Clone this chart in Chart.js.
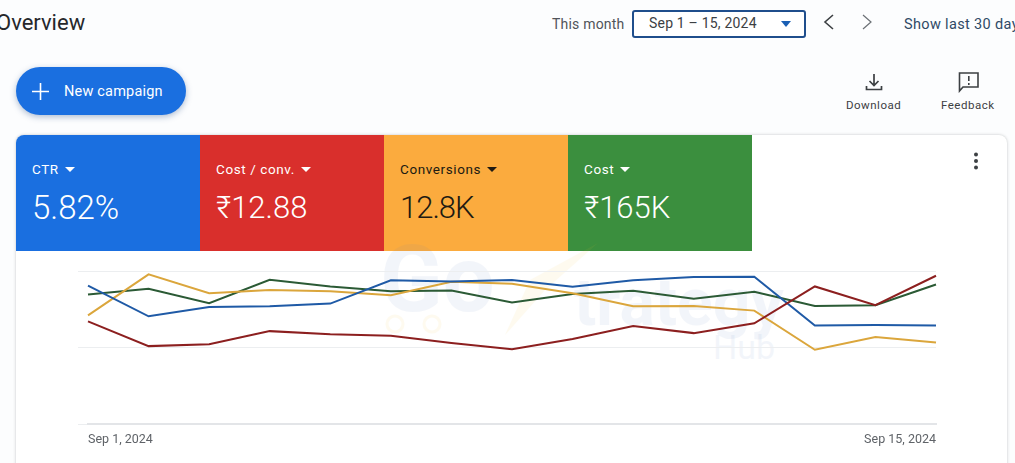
<!DOCTYPE html>
<html>
<head>
<meta charset="utf-8">
<script src="https://cdn.jsdelivr.net/npm/chart.js@4"></script>
<style>
    html, body { margin: 0; padding: 0; }
    body {
        width: 1015px; height: 463px; overflow: hidden; position: relative;
        background: #fcfdfe; font-family: Roboto, sans-serif; color: #3c4043;
    }
    .abs { position: absolute; white-space: nowrap; }
    .title { left: -4px; top: 10px; font-size: 22px; color: #26282b; }
    .month { left: 552px; top: 16px; font-size: 14px; letter-spacing: .2px; color: #50545a; }
    .range {
        left: 632px; top: 10px; width: 170px; height: 24px; border: 2px solid #1f4e8c; border-radius: 3px;
        background: #fff;
    }
    .range span { position: absolute; left: 15px; top: 3px; font-size: 14px; letter-spacing: .2px; color: #3c4043; }
    .range i { position: absolute; right: 13px; top: 9px; border: 5.5px solid transparent; border-top: 6px solid #1a5fb4; border-bottom: 0; }
    .last { left: 904px; top: 16px; font-size: 14.5px; letter-spacing: .35px; color: #2f4a66; }
    .btn {
        left: 16px; top: 67px; width: 170px; height: 48px; border-radius: 24px; background: #1a6fe0;
        box-shadow: 0 2px 6px rgba(30, 70, 130, .35);
    }
    .btn span { position: absolute; left: 48px; top: 16px; font-size: 14.5px; letter-spacing: .2px; color: #fff; }
    .lab { font-size: 11.5px; letter-spacing: .5px; color: #3c4043; }
    .card {
        left: 16px; top: 135px; width: 991px; height: 340px; background: #fff; border-radius: 8px;
        box-shadow: 0 0 3px rgba(60, 64, 67, .3);
    }
    .tile { top: 135px; width: 184px; height: 116px; }
    .tile .name { position: absolute; left: 16px; top: 26px; font-size: 13.5px; letter-spacing: .6px; }
    .tile .name i {
        display: inline-block; margin-left: 6px; vertical-align: 2px;
        border: 5px solid transparent; border-top: 5px solid currentColor; border-bottom: 0;
    }
    .tile .val { position: absolute; left: 16px; top: 54px; font-size: 31px; font-weight: 300; }
    .mark { color: #5b7fc0; opacity: .07; font-weight: 700; }
    canvas { position: absolute; left: 60px; top: 255px; }
</style>
</head>
<body>
<div class="abs title">Overview</div>
<div class="abs month">This month</div>
<div class="abs range"><span>Sep 1 – 15, 2024</span><i></i></div>
<svg class="abs" style="left:821px;top:13px" width="16" height="18" fill="none" stroke="#3c4043" stroke-width="1.6"><path d="M12 2 L4 9 L12 16"/></svg>
<svg class="abs" style="left:859px;top:13px" width="16" height="18" fill="none" stroke="#6b7075" stroke-width="1.2"><path d="M4 2 L12 9 L4 16"/></svg>
<div class="abs last">Show last 30 days</div>

<div class="abs btn">
    <svg style="position:absolute;left:16px;top:16px" width="17" height="17" stroke="#fff" stroke-width="1.6"><path d="M8.5 0 V17 M0 8.5 H17"/></svg>
    <span>New campaign</span>
</div>

<svg class="abs" style="left:864px;top:72px" width="20" height="20" fill="none" stroke="#3c4043" stroke-width="1.7"><path d="M10 2 V13 M5.5 9 L10 13.5 L14.5 9 M2.5 14 V17.5 H17.5 V14"/></svg>
<div class="abs lab" style="left:846px;top:98px">Download</div>
<svg class="abs" style="left:958px;top:71px" width="22" height="22" fill="none" stroke="#3c4043" stroke-width="1.6"><path d="M1.5 2 H20 V16 H5 L1.5 20 Z M10.8 5 V10 M10.8 12 V14"/></svg>
<div class="abs lab" style="left:941px;top:98px">Feedback</div>

<div class="abs card"></div>
<div class="abs tile" style="left:16px;background:#1a6fe0;color:#fff;border-top-left-radius:8px"><div class="name">CTR<i></i></div><div class="val" style="font-size:33px;top:53px">5.82%</div></div>
<div class="abs tile" style="left:200px;background:#d92f2c;color:#fff"><div class="name">Cost / conv.<i></i></div><div class="val">₹12.88</div></div>
<div class="abs tile" style="left:384px;background:#fbab3e;color:#201a12"><div class="name">Conversions<i></i></div><div class="val" style="letter-spacing:-1px">12.8K</div></div>
<div class="abs tile" style="left:568px;background:#3b8f3e;color:#fff"><div class="name">Cost<i></i></div><div class="val">₹165K</div></div>

<div class="abs mark" style="left:380px;top:226px;font-size:92px">Go</div>
<div class="abs mark" style="left:574px;top:264px;font-size:66px">trategy</div>
<div class="abs mark" style="left:713px;top:327px;font-size:34px;font-weight:400">Hub</div>
<svg class="abs" style="left:380px;top:240px;opacity:.07" width="240" height="110" fill="#f2c230">
    <circle cx="15" cy="84" r="8" fill="none" stroke="#f2c230" stroke-width="3"/>
    <circle cx="52" cy="84" r="8" fill="none" stroke="#f2c230" stroke-width="3"/>
    <path d="M218 3 L150 40 L125 95 L165 50 Z"/>
</svg>

<svg class="abs" style="left:972px;top:152px" width="8" height="18" fill="#3c4043"><circle cx="4" cy="2.5" r="2"/><circle cx="4" cy="9" r="2"/><circle cx="4" cy="15.5" r="2"/></svg>

<canvas id="lineChart" width="900" height="200"></canvas>

<script>
const days = ['Sep 1, 2024', 'Sep 2, 2024', 'Sep 3, 2024', 'Sep 4, 2024', 'Sep 5, 2024', 'Sep 6, 2024', 'Sep 7, 2024', 'Sep 8, 2024',
    'Sep 9, 2024', 'Sep 10, 2024', 'Sep 11, 2024', 'Sep 12, 2024', 'Sep 13, 2024', 'Sep 14, 2024', 'Sep 15, 2024'];
const ctr = [90.4, 70.4, 76.5, 77, 78.7, 93.9, 93.2, 94.1, 89.7, 93.9, 96.1, 96.3, 64.3, 64.7, 64.3];
const costPerConv = [67.1, 50.9, 52.2, 60.7, 58.6, 57.7, 53, 48.9, 55.5, 64, 59.4, 65.8, 89.9, 77.6, 96.9];
const conversions = [71, 97.8, 85.5, 87.5, 86.8, 84.2, 93, 91.7, 85.5, 77, 77.2, 74.1, 48.5, 56.8, 53.3];
const cost = [84.6, 88.4, 78.9, 94.3, 89.9, 86.8, 87.3, 79.4, 84.9, 87.1, 81.8, 86.4, 77.2, 77.6, 91.2];

const line = (label, data, color) => ({
    label, data, borderColor: color, borderWidth: 2, pointRadius: 0, tension: 0
});

new Chart(document.getElementById('lineChart').getContext('2d'), {
    type: 'line',
    data: {
        labels: days,
        datasets: [
            line('Cost / conv.', costPerConv, '#8c1f1f'),
            line('CTR', ctr, '#1f5aa6'),
            line('Conversions', conversions, '#dba63c'),
            line('Cost', cost, '#2b5a35')
        ]
    },
    options: {
        responsive: false,
        animation: false,
        layout: { padding: { left: 18, right: 24, top: 16, bottom: 0 } },
        plugins: { legend: { display: false }, tooltip: { enabled: false } },
        scales: {
            x: {
                grid: { display: false, drawTicks: false },
                border: { color: '#e3e5e8', width: 2 },
                ticks: {
                    autoSkip: false, maxRotation: 0, align: 'inner', padding: 8,
                    color: '#5f6368', font: { family: 'Roboto', size: 12.5 },
                    callback: (v, i) => (i === 0 || i === days.length - 1) ? days[i] : ''
                }
            },
            y: {
                min: 0, max: 100,
                grid: { color: '#eceef0', lineWidth: 1, tickLength: 10 },
                border: { display: false },
                ticks: { display: false, stepSize: 50 }
            }
        }
    }
});
</script>
</body>
</html>
